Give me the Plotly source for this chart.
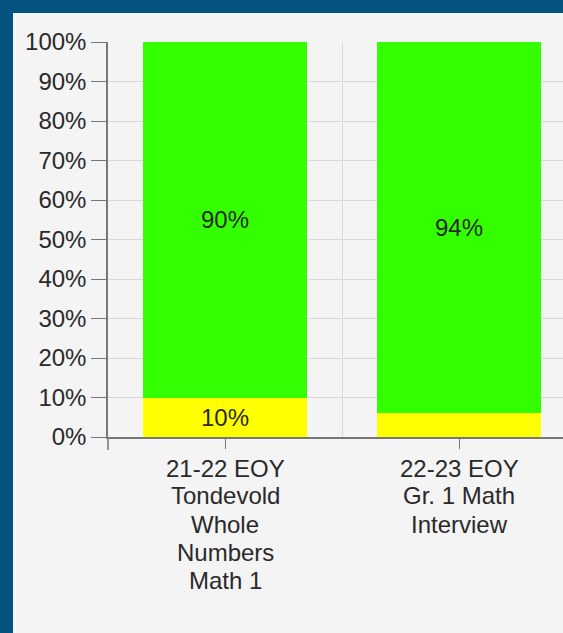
import plotly.graph_objects as go

categories = [
    "21-22 EOY<br>Tondevold<br>Whole<br>Numbers<br>Math 1",
    "22-23 EOY<br>Gr. 1 Math<br>Interview",
]
yellow_values = [10, 6]
green_values = [90, 94]
y_ticks = list(range(0, 101, 10))
y_labels = [f"{v}%" for v in y_ticks]

W, H = 563, 633
L, R, T, B = 108, 0, 42, 196
BLUE = "#04527f"
PANEL = "#f4f4f4"
TEXT = "#2a2a2a"
FONT = "Arial, Liberation Sans, sans-serif"
SIZE = 24


def px_x(p):
    return (p - L) / (W - L - R)


def px_y(p):
    return (H - B - p) / (H - T - B)


x = list(range(len(categories)))

fig = go.Figure()
fig.add_bar(
    x=x,
    y=yellow_values,
    marker=dict(color="#ffff00", line=dict(width=0)),
    text=[f"{v}%" if v >= 10 else "" for v in yellow_values],
    textposition="inside",
    insidetextanchor="middle",
    textfont=dict(color=TEXT, size=SIZE, family=FONT),
)
fig.add_bar(
    x=x,
    y=green_values,
    marker=dict(color="#33ff00", line=dict(width=0)),
    text=[f"{v}%" for v in green_values],
    textposition="inside",
    insidetextanchor="middle",
    textfont=dict(color=TEXT, size=SIZE, family=FONT),
)

shapes = [
    # blue frame on the left and top
    dict(type="rect", xref="paper", yref="paper", x0=px_x(0), x1=px_x(13),
         y0=px_y(H), y1=px_y(0), fillcolor=BLUE, line=dict(width=0), layer="above"),
    dict(type="rect", xref="paper", yref="paper", x0=px_x(0), x1=px_x(W),
         y0=px_y(13), y1=px_y(0), fillcolor=BLUE, line=dict(width=0), layer="above"),
    # y axis line runs a little past zero
    dict(type="line", xref="paper", yref="paper", x0=0, x1=0,
         y0=0, y1=px_y(H - B + 13), line=dict(color="#777777", width=1.5)),
]

# category labels, one line at a time (tighter line spacing than tick labels)
annotations = []
for i, cat in enumerate(categories):
    for j, line in enumerate(cat.split("<br>")):
        annotations.append(dict(
            x=i, xref="x", y=px_y(468 + 28 * j), yref="paper",
            text=line, showarrow=False, yanchor="middle", xanchor="center",
            font=dict(size=SIZE, color=TEXT, family=FONT),
        ))

fig.update_layout(
    width=W,
    height=H,
    margin=dict(l=L, r=R, t=T, b=B),
    paper_bgcolor=PANEL,
    plot_bgcolor=PANEL,
    barmode="stack",
    bargap=0.3,
    showlegend=False,
    font=dict(family=FONT, size=SIZE, color=TEXT),
    shapes=shapes,
    annotations=annotations,
)
fig.update_xaxes(
    range=[-0.5, -0.5 + (W - L - R) / 234],
    tickmode="array",
    tickvals=x,
    showticklabels=False,
    ticks="outside",
    ticklen=10,
    tickcolor="#777777",
    showgrid=False,
    showline=True,
    linecolor="#777777",
    linewidth=1.5,
    minor=dict(tickvals=[-0.5, 0.5, 1.5], showgrid=True, gridcolor="#d9d9d9", ticklen=0),
)
fig.update_yaxes(
    range=[0, 100],
    tickmode="array",
    tickvals=y_ticks,
    ticktext=y_labels,
    ticks="outside",
    ticklen=15,
    tickcolor="#777777",
    showline=True,
    linecolor="#777777",
    linewidth=1.5,
    gridcolor="#d9d9d9",
    zeroline=False,
    tickfont=dict(size=SIZE, color=TEXT),
)

fig.write_html(
    "out.html",
    config={"displayModeBar": False},
    post_script="document.body.style.margin='0';",
)
